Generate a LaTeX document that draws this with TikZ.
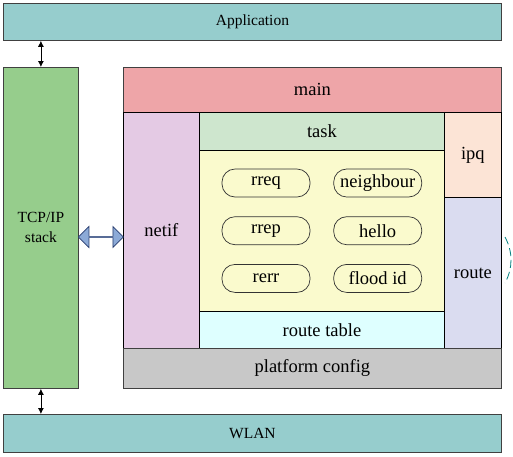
\documentclass[tikz,border=0pt]{standalone}
\usepackage{fontspec}
\setmainfont{Liberation Serif}
\usetikzlibrary{positioning,arrows.meta,shapes.arrows,calc}

\definecolor{appteal}{RGB}{150,205,205}
\definecolor{stackgreen}{RGB}{150,205,140}
\definecolor{mainpink}{RGB}{238,165,168}
\definecolor{netifpink}{RGB}{228,202,228}
\definecolor{taskgreen}{RGB}{206,230,206}
\definecolor{ipqpeach}{RGB}{252,228,214}
\definecolor{routeblue}{RGB}{218,220,240}
\definecolor{coreyellow}{RGB}{250,250,205}
\definecolor{tablecyan}{RGB}{222,255,255}
\definecolor{platgray}{RGB}{200,200,200}
\definecolor{linkblue}{RGB}{140,170,215}
\definecolor{linkedge}{RGB}{40,60,110}
\definecolor{arcteal}{RGB}{0,128,128}

\begin{document}
\begin{tikzpicture}[
    x=1pt, y=-1pt,
    layer/.style={rectangle, draw=black!75, line width=0.8pt, anchor=north west, inner sep=0pt, font=\fontsize{15.5}{20}\selectfont, align=center},
    module/.style={rectangle, draw=black, line width=0.8pt, anchor=north west, inner sep=0pt, font=\fontsize{18.5}{22}\selectfont},
    pill/.style={rectangle, rounded corners=13pt, draw=black!80, line width=0.7pt, fill=coreyellow, minimum width=88pt, minimum height=28pt, inner sep=0pt, font=\fontsize{18.5}{22}\selectfont},
    dbl/.style={{Latex[length=6pt,width=6pt]}-{Latex[length=6pt,width=6pt]}, line width=0.8pt}
]
\useasboundingbox (0,0) rectangle (513,456);

% Outer layers
\node[layer, fill=appteal, minimum width=498pt, minimum height=37pt] (app) at (3,3) {Application};
\node[layer, fill=stackgreen, minimum width=75pt, minimum height=321pt] (tcp) at (3,67) {TCP/IP\\stack};
\node[layer, fill=appteal, minimum width=498pt, minimum height=38pt] (wlan) at (3,414) {WLAN};

% Modules
\node[module, draw=black!75, fill=mainpink, minimum width=378pt, minimum height=45pt] (main) at (123,67) {main};
\node[module, fill=netifpink, minimum width=76pt, minimum height=236pt] (netif) at (123,112) {netif};
\node[module, fill=taskgreen, minimum width=245pt, minimum height=38pt] (task) at (199,112) {task};
\node[module, fill=ipqpeach, minimum width=57pt, minimum height=85pt] (ipq) at (444,112) {ipq};
\node[module, fill=routeblue, minimum width=57pt, minimum height=151pt] (route) at (444,197) {route};
\node[module, fill=coreyellow, minimum width=245pt, minimum height=161pt] (core) at (199,150) {};
\node[module, fill=tablecyan, minimum width=245pt, minimum height=37pt] (table) at (199,311) {route table};
\node[module, draw=black!75, fill=platgray, minimum width=378pt, minimum height=40pt] (plat) at (123,348) {platform config};

% Protocol parts
\node[pill] (rreq) at (266,183) {rreq};
\node[pill, below=19pt of rreq] (rrep) {rrep};
\node[pill, below=19pt of rrep] (rerr) {rerr};
\node[pill, right=23pt of rreq] (nbr) {neighbour};
\node[pill, right=23pt of rrep] (hello) {hello};
\node[pill, right=23pt of rerr] (flood) {flood id};

% Links
\draw[dbl] (tcp.north) -- (tcp.north |- app.south);
\draw[dbl] (tcp.south) -- (tcp.south |- wlan.north);
\node[double arrow, draw=linkedge, line width=0.7pt, fill=linkblue, inner sep=0pt,
      minimum height=45pt, minimum width=21pt, double arrow head extend=5.5pt,
      double arrow head indent=0pt] (link)
      at ($(tcp.east |- 0,237)!0.5!(netif.west |- 0,237)$) {};

% Dashed arc
\draw[arcteal, line width=0.8pt, dash pattern=on 8pt off 4pt]
    (505,237) .. controls (513,252) and (513,268) .. (505,283);

\end{tikzpicture}
\end{document}
